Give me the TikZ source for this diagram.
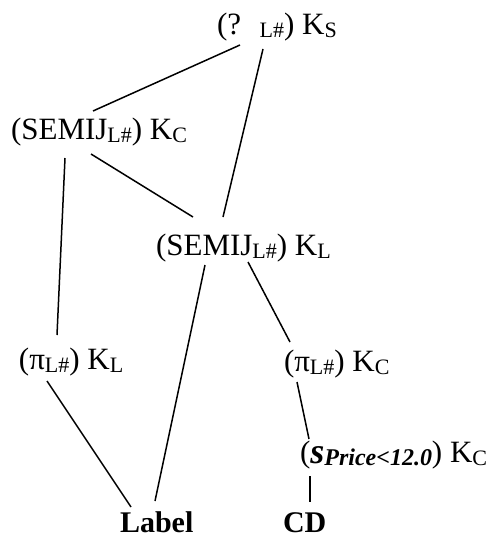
\documentclass[tikz,border=0pt]{standalone}
\usepackage{fontspec}
\setmainfont{Liberation Serif}
\usetikzlibrary{calc}
\newcommand\sbx[1]{\raisebox{-0.1em}{\fontsize{22}{22}\selectfont #1}}
\newcommand\sbxb[1]{\raisebox{-0.1em}{\fontsize{24}{24}\selectfont\bfseries\itshape #1}}
\tikzset{
  lbl/.style={anchor=base west, inner sep=0pt, outer sep=0pt, font=\fontsize{31}{33}\selectfont},
  bold lbl/.style={lbl, font=\fontsize{30}{32}\selectfont\bfseries},
  edge/.style={line width=1.5pt, black}
}
\begin{document}
\begin{tikzpicture}[x=1pt,y=-1pt]
\useasboundingbox (0,0) rectangle (494,538);
\fill[white] (0,0) rectangle (494,538);
\node[lbl] (top) at (217,34) {(?\hspace{0.6em}\sbx{L\#}) K\sbx{S}};
\node[lbl] (semijC) at (11,139) {(SEMIJ\sbx{L\#}) K\sbx{C}};
\node[lbl] (semijL) at (156,255) {(SEMIJ\sbx{L\#}) K\sbx{L}};
\node[lbl] (piL) at (19,369) {(π\sbx{L\#}) K\sbx{L}};
\node[lbl] (piC) at (284,371) {(π\sbx{L\#}) K\sbx{C}};
\node[lbl] (sel) at (300,462) {(\raisebox{-0.05em}{\fontsize{36}{36}\selectfont\bfseries\itshape s}\sbxb{Price<12.0}) K\sbx{C}};
\node[bold lbl] (label) at (120,532) {Label};
\node[bold lbl] (cd) at (283,532) {CD};
\draw[edge] ($(top.base west)+(23,11)$) -- ($(semijC.base west)+(82,-28)$);
\draw[edge] ($(top.base west)+(46,15)$) -- ($(semijL.base west)+(67,-38)$);
\draw[edge] ($(semijC.base west)+(54,19)$) -- ($(piL.base west)+(38,-34)$);
\draw[edge] ($(semijC.base west)+(80,15)$) -- ($(semijL.base west)+(37,-38)$);
\draw[edge] ($(semijL.base west)+(49,10)$) -- ($(label.base west)+(35,-31)$);
\draw[edge] ($(semijL.base west)+(92,7)$) -- ($(piC.base west)+(6,-29)$);
\draw[edge] ($(piL.base west)+(28,12)$) -- ($(label.base west)+(11,-25)$);
\draw[edge] ($(piC.base west)+(13,11)$) -- ($(sel.base west)+(9,-23)$);
\draw[edge] ($(sel.base west)+(10,14)$) -- ($(cd.base west)+(27,-30)$);
\end{tikzpicture}
\end{document}
